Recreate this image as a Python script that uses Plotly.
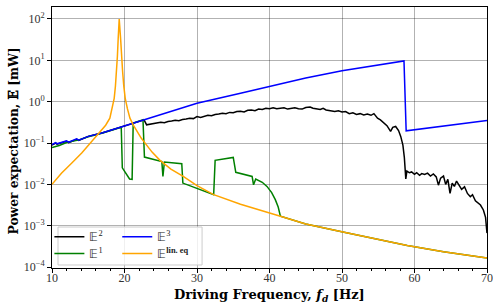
import plotly.graph_objects as go

# ---- data (frequency in Hz, power as log10 of mW) ----
f_e2 = [10.0, 10.5, 10.7, 12.0, 12.3, 13.4, 13.7, 15.0, 17.0, 20.0,
        21.0, 22.7, 23.05, 23.5, 24.0, 24.5, 25.0, 25.5, 26.0, 26.5,
        27.0, 27.5, 28.0, 28.5, 29.0, 29.5, 30.0, 30.5, 31.0, 31.5,
        32.0, 32.5, 33.0, 33.5, 34.0, 34.5, 35.0, 35.5, 36.0, 36.5,
        37.0, 37.5, 38.0, 38.5, 39.0, 39.5, 40.0, 40.5, 41.0, 41.5,
        42.0, 42.5, 43.0, 43.5, 44.0, 44.5, 45.0, 45.6, 46.0, 46.5,
        47.0, 47.4, 47.8, 48.4, 49.0, 49.5, 50.0, 50.5, 51.0, 51.5,
        52.0, 52.5, 53.0, 53.5, 54.0, 54.4, 54.9, 55.3, 55.8, 56.2,
        56.7, 57.0, 57.4, 57.8, 58.1, 58.4, 58.6, 58.8, 58.95, 59.3,
        59.6, 60.0, 60.3, 60.7, 61.0, 61.4, 61.8, 62.2, 62.6, 63.0,
        63.3, 63.6, 64.0, 64.3, 64.6, 64.9, 65.2, 65.5, 65.8, 66.2,
        66.5, 66.9, 67.3, 67.7, 68.0, 68.4, 68.8, 69.1, 69.5, 69.8,
        70.0]
log_e2 = [-1.05, -1.00, -1.03, -0.96, -0.99, -0.91, -0.94, -0.84, -0.75, -0.585,
          -0.52, -0.44, -0.56, -0.55, -0.53, -0.52, -0.50, -0.51, -0.48, -0.47,
          -0.45, -0.46, -0.43, -0.42, -0.40, -0.41, -0.36, -0.38, -0.35, -0.33,
          -0.34, -0.31, -0.30, -0.28, -0.29, -0.26, -0.27, -0.24, -0.23, -0.25,
          -0.21, -0.20, -0.22, -0.18, -0.19, -0.16, -0.17, -0.15, -0.17, -0.16,
          -0.15, -0.18, -0.16, -0.15, -0.17, -0.18, -0.14, -0.13, -0.16, -0.18,
          -0.19, -0.16, -0.20, -0.22, -0.24, -0.22, -0.25, -0.24, -0.29, -0.27,
          -0.31, -0.29, -0.32, -0.30, -0.33, -0.29, -0.40, -0.44, -0.52, -0.58,
          -0.72, -0.62, -0.60, -0.70, -0.84, -1.05, -1.35, -1.87, -1.68, -1.72,
          -1.70, -1.76, -1.72, -1.78, -1.74, -1.76, -1.73, -1.80, -1.75, -1.82,
          -2.02, -1.85, -1.80, -2.00, -1.88, -2.22, -1.97, -2.05, -1.92, -2.02,
          -2.12, -2.06, -2.22, -2.30, -2.25, -2.40, -2.45, -2.50, -2.62, -2.80,
          -3.18]

f_e1 = [10.0, 11.0, 12.0, 13.0, 13.6, 15.0, 17.0, 19.55, 19.7, 20.7,
        21.05, 21.2, 22.55, 22.75, 24.9, 25.15, 25.3, 25.5, 27.9, 28.05,
        32.3, 32.5, 35.0, 35.35, 37.6, 37.8, 38.1, 39.0, 39.65, 40.3,
        40.8, 41.2, 41.5, 45.0, 49.8, 54.0, 59.0, 64.0, 70.0]
log_e1 = [-1.11, -1.06, -0.99, -0.95, -0.93, -0.85, -0.76, -0.62, -1.60, -1.87,
          -1.88, -0.52, -0.44, -1.34, -1.43, -1.45, -1.81, -1.46, -1.50, -1.97,
          -2.25, -1.42, -1.35, -1.71, -1.81, -2.01, -1.87, -1.95, -2.05, -2.20,
          -2.37, -2.55, -2.77, -2.96, -3.14, -3.29, -3.48, -3.63, -3.78]

f_e3 = [10.0, 10.5, 10.7, 12.0, 12.3, 13.4, 13.7, 15.0, 17.0, 20.0, 21.0,
        25.0, 30.0, 36.0, 41.0, 45.0, 50.0, 55.0, 58.55, 58.85, 70.0]
log_e3 = [-1.04, -0.99, -1.02, -0.95, -0.98, -0.90, -0.93, -0.84, -0.75, -0.585, -0.52,
          -0.31, -0.04, 0.205, 0.41, 0.57, 0.75, 0.886, 0.985, -0.705, -0.456]

f_lin = [10.0, 11.3, 12.7, 14.1, 15.5, 16.85, 17.4, 17.98, 18.3, 18.58,
         18.75, 18.91, 19.02, 19.13, 19.27, 19.46, 19.58, 19.74, 19.9, 20.10,
         20.4, 20.75, 21.2, 21.67, 22.3, 23.0, 23.8, 24.9, 26.4, 28.1,
         30.0, 32.3, 36.0, 41.5, 45.0, 49.8, 54.0, 59.0, 64.0, 70.0]
log_lin = [-2.00, -1.73, -1.49, -1.24, -0.96, -0.70, -0.57, -0.40, -0.14, 0.08,
           0.38, 0.73, 1.10, 1.53, 2.00, 1.53, 1.10, 0.73, 0.38, 0.08,
           -0.17, -0.40, -0.56, -0.71, -0.88, -1.04, -1.22, -1.42, -1.63, -1.81,
           -2.03, -2.25, -2.48, -2.77, -2.96, -3.14, -3.29, -3.48, -3.63, -3.78]

y_tick_vals = [1e-4, 1e-3, 1e-2, 1e-1, 1e0, 1e1, 1e2]
y_tick_text = ["10<sup>\u22124</sup>", "10<sup>\u22123</sup>", "10<sup>\u22122</sup>",
               "10<sup>\u22121</sup>", "10<sup>0</sup>", "10<sup>1</sup>", "10<sup>2</sup>"]
x_tick_vals = [10, 20, 30, 40, 50, 60, 70]

E = "\U0001D53C"
x_title = "<b>Driving Frequency, <i>f<sub>d</sub></i> [Hz]</b>"
y_title = "<b>Power expectation, " + E + " [mW]</b>"

# name, x, logy, color, legend id, legend position (paper x, paper y)
series = [
    (E + "<sup>2</sup>", f_e2, log_e2, "black", "legend", (-0.006, 0.120)),
    (E + "<sup>1</sup>", f_e1, log_e1, "green", "legend2", (-0.006, 0.056)),
    (E + "<sup>3</sup>", f_e3, log_e3, "blue", "legend3", (0.150, 0.120)),
    (E + "<sup><b>lin. eq</b></sup>", f_lin, log_lin, "orange", "legend4", (0.150, 0.056)),
]

FONT = "Liberation Serif"
TFONT = "DejaVu Serif"

fig = go.Figure()
legends = {}
for name, xs, ls, col, leg, (lx, ly) in series:
    fig.add_trace(go.Scatter(
        x=xs, y=[10 ** v for v in ls], mode="lines", name=name,
        line=dict(color=col, width=1.5), legend=leg,
    ))
    legends[leg] = dict(
        x=lx, y=ly, xanchor="left", yanchor="middle", orientation="v",
        bgcolor="rgba(0,0,0,0)", borderwidth=0,
        font=dict(family=FONT, size=12, color="#222"),
        itemwidth=30, tracegroupgap=0,
    )

fig.update_layout(
    width=493, height=304,
    margin=dict(l=52, r=6, t=7, b=36),
    paper_bgcolor="white", plot_bgcolor="white",
    font=dict(family=FONT, size=12, color="#222"),
    showlegend=True,
    shapes=[dict(
        type="rect", xref="paper", yref="paper", layer="above",
        x0=0.0138, x1=0.345, y0=0.0115, y1=0.157,
        fillcolor="rgba(255,255,255,0.8)", line=dict(color="#cccccc", width=1),
    )],
    annotations=[
        dict(text=x_title, xref="paper", yref="paper", x=0.5, y=-0.107,
             xanchor="center", yanchor="middle", showarrow=False,
             font=dict(family=TFONT, size=13, color="black")),
        dict(text=y_title, xref="paper", yref="paper", x=-0.0885, y=0.4866,
             xanchor="center", yanchor="middle", showarrow=False, textangle=-90,
             font=dict(family=TFONT, size=12.3, color="black")),
    ],
    **legends,
)

fig.update_xaxes(
    range=[10, 70], tickvals=x_tick_vals, ticktext=[str(v) for v in x_tick_vals],
    showline=True, mirror=True, linecolor="black", linewidth=1,
    ticks="outside", ticklen=4, tickwidth=1, tickcolor="black",
    showgrid=True, gridcolor="rgba(0,0,0,0.3)", gridwidth=1, zeroline=False,
    minor=dict(dtick=2, tick0=10, ticks="outside", ticklen=2, tickcolor="black", showgrid=False),
    tickfont=dict(family=FONT, size=12, color="#333"),
    ticklabelstandoff=-5,
    automargin=False,
)
fig.update_yaxes(
    type="log", range=[-4.024, 2.29], tickvals=y_tick_vals, ticktext=y_tick_text,
    showline=True, mirror=True, linecolor="black", linewidth=1,
    ticks="outside", ticklen=4, tickwidth=1, tickcolor="black",
    showgrid=True, gridcolor="rgba(0,0,0,0.3)", gridwidth=1, zeroline=False,
    tickfont=dict(family=FONT, size=12, color="#333"),
    automargin=False,
)

fig.write_html("out.html", config={"displayModeBar": False},
               post_script="document.body.style.margin='0';")
